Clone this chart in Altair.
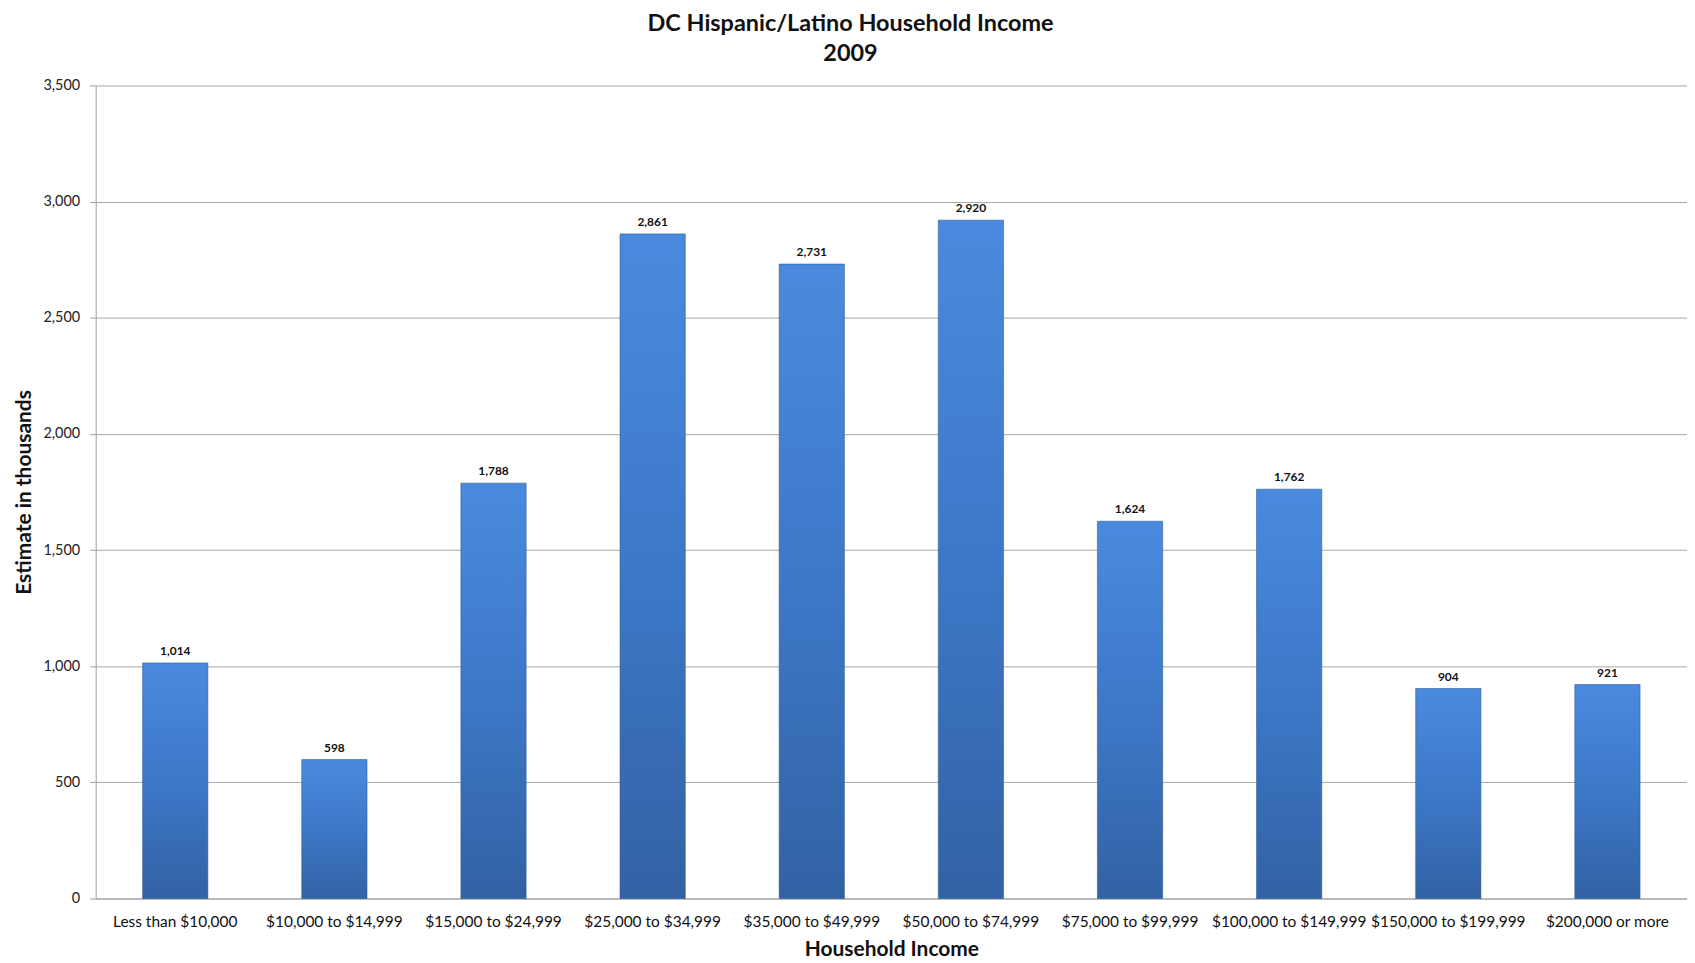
import altair as alt
import pandas as pd

categories = [
    "Less than $10,000", "$10,000 to $14,999", "$15,000 to $24,999",
    "$25,000 to $34,999", "$35,000 to $49,999", "$50,000 to $74,999",
    "$75,000 to $99,999", "$100,000 to $149,999", "$150,000 to $199,999",
    "$200,000 or more",
]
values = [1014, 598, 1788, 2861, 2731, 2920, 1624, 1762, 904, 921]
y_ticks = [0, 500, 1000, 1500, 2000, 2500, 3000, 3500]

df = pd.DataFrame({"income": categories, "estimate": values})

FONT = "Lato"

x_enc = alt.X(
    "income:N", sort=categories,
    scale=alt.Scale(paddingInner=0.59, paddingOuter=0.295),
    axis=alt.Axis(
        title="Household Income", labelAngle=0, labelFontSize=15.5,
        labelColor="#111111", labelFont=FONT, labelPadding=16, ticks=False,
        domainColor="#a0a0a0", titleFont=FONT, titleFontSize=21,
        titleFontWeight="bold", titleColor="#111111", titlePadding=9,
    ),
)
y_enc = alt.Y(
    "estimate:Q", scale=alt.Scale(domain=[0, 3500], nice=False),
    axis=alt.Axis(
        title="Estimate in thousands", values=y_ticks, format=",d",
        labelFontSize=14.5, labelColor="#222222", labelFont=FONT,
        tickSize=6, tickColor="#a0a0a0", labelPadding=10,
        domainColor="#a0a0a0", gridColor="#a8a8a8",
        titleFont=FONT, titleFontSize=21, titleFontWeight="bold",
        titleColor="#111111", titlePadding=8,
    ),
)

grad = alt.LinearGradient(
    gradient="linear", x1=0, x2=0, y1=0, y2=1,
    stops=[
        alt.GradientStop(color="#4a8ade", offset=0),
        alt.GradientStop(color="#3d78c8", offset=0.5),
        alt.GradientStop(color="#3262a4", offset=1),
    ],
)

bars = alt.Chart(df).mark_bar(color=grad, stroke="#2f5c99", strokeWidth=0.6).encode(
    x=x_enc, y=y_enc
)
labels = alt.Chart(df).mark_text(
    baseline="bottom", dy=-5, fontSize=12, fontWeight="bold", font=FONT,
    color="#111111",
).encode(x=alt.X("income:N", sort=categories), y="estimate:Q",
         text=alt.Text("estimate:Q", format=","))

chart = (
    alt.layer(bars, labels)
    .properties(
        width=1597, height=816,
        padding={"left": 6, "top": 2, "right": 0, "bottom": 0},
        title=alt.Title(
            ["DC Hispanic/Latino Household Income", "2009"],
            fontSize=23.5, font=FONT, fontWeight="bold", color="#111111",
            anchor="middle", frame="bounds", lineHeight=30, offset=12,
        ),
    )
    .configure_view(stroke=None)
    .configure_axis(grid=True)
    .configure_axisX(grid=False)
)

chart.save("out.html", embed_options={"renderer": "svg", "actions": False})
